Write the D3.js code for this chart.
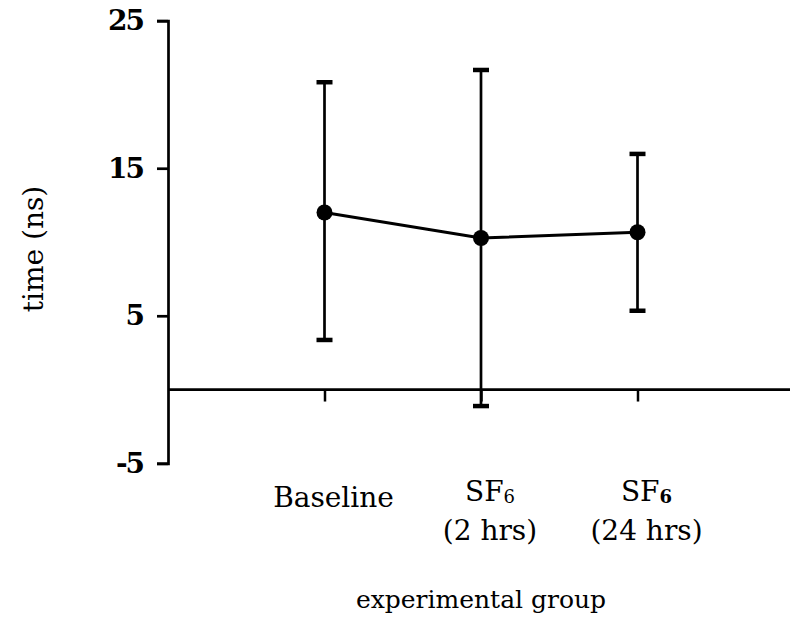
<!DOCTYPE html>
<html>
<head>
<meta charset="utf-8">
<script src="https://cdn.jsdelivr.net/npm/d3@7"></script>
<style>
  html, body { margin: 0; padding: 0; background: #fff; }
  svg { display: block; }
  text { font-family: "DejaVu Serif", serif; fill: #000; }
</style>
</head>
<body>
<script>
// ---- data ----
const categories = ["Baseline", "SF6 (2 hrs)", "SF6 (24 hrs)"];
const categoryPos = [1, 2, 3];
const meanValues = [12.0, 10.27, 10.66];
const upperValues = [20.83, 21.66, 15.97];
const lowerValues = [3.36, -1.12, 5.34];
const yTickValues = [25, 15, 5, -5];
const yTitle = "time (ns)";
const xTitle = "experimental group";

const W = 790, H = 623;
const svg = d3.select("body").append("svg").attr("width", W).attr("height", H);

const x = d3.scaleLinear().domain([0, 4]).range([168, 794]);
const y = d3.scaleLinear().domain([-5, 25]).range([463.3, 20.7]);

// y axis
const yAxis = d3.axisLeft(y).tickValues(yTickValues).tickSizeOuter(0).tickSize(11).tickPadding(14)
  .tickFormat(d => String(d));
const gy = svg.append("g").attr("transform", `translate(${x(0)},0)`).call(yAxis);
gy.select(".domain").attr("stroke", "#000").attr("stroke-width", 2.7);
gy.selectAll(".tick line").attr("stroke", "#000").attr("stroke-width", 2.7);
gy.selectAll(".tick text").attr("font-family", "DejaVu Serif").attr("font-weight", "bold")
  .attr("font-size", 28).attr("letter-spacing", -2).attr("fill", "#000");

// x axis at y = 0
const xAxis = d3.axisBottom(x).tickValues(categoryPos).tickSizeOuter(0).tickSize(12).tickFormat("");
const gx = svg.append("g").attr("transform", `translate(0,${y(0)})`).call(xAxis);
gx.select(".domain").attr("stroke", "#000").attr("stroke-width", 2.7)
  .attr("d", `M${x(0)},0H${W}`);
gx.selectAll(".tick line").attr("stroke", "#000").attr("stroke-width", 2.5);

// category labels
const labels = [
  { main: "Baseline", sub: null, subBold: false, second: null },
  { main: "SF", sub: "6", subBold: false, second: "(2 hrs)" },
  { main: "SF", sub: "6", subBold: true, second: "(24 hrs)" }
];
labels.forEach((l, i) => {
  const cx = x(categoryPos[i]) + 9;
  const t = svg.append("text").attr("x", cx).attr("y", l.second ? 501 : 507)
    .attr("text-anchor", "middle").attr("font-size", 28);
  t.append("tspan").text(l.main);
  if (l.sub) {
    t.append("tspan").attr("font-size", 18).attr("dy", 2)
      .attr("font-weight", l.subBold ? "bold" : "normal").text(l.sub);
  }
  if (l.second) {
    svg.append("text").attr("x", cx).attr("y", 540).attr("text-anchor", "middle")
      .attr("font-size", 28).text(l.second);
  }
});

// axis titles
svg.append("text").attr("transform", `translate(43,${249}) rotate(-90)`)
  .attr("text-anchor", "middle").attr("font-size", 28).text(yTitle);
svg.append("text").attr("x", 481).attr("y", 608).attr("text-anchor", "middle")
  .attr("font-size", 25).text(xTitle);

// error bars
const capW = 16;
categoryPos.forEach((c, i) => {
  const cx = x(c);
  svg.append("line").attr("x1", cx).attr("x2", cx)
    .attr("y1", y(upperValues[i])).attr("y2", y(lowerValues[i]))
    .attr("stroke", "#000").attr("stroke-width", 2.7);
  [upperValues[i], lowerValues[i]].forEach(v => {
    svg.append("line").attr("x1", cx - capW / 2).attr("x2", cx + capW / 2)
      .attr("y1", y(v)).attr("y2", y(v)).attr("stroke", "#000").attr("stroke-width", 4.5);
  });
});

// mean line
const line = d3.line().x((d, i) => x(categoryPos[i])).y(d => y(d));
svg.append("path").datum(meanValues).attr("d", line)
  .attr("fill", "none").attr("stroke", "#000").attr("stroke-width", 3);

svg.selectAll("circle.mean").data(meanValues).enter().append("circle")
  .attr("class", "mean")
  .attr("cx", (d, i) => x(categoryPos[i])).attr("cy", d => y(d)).attr("r", 8)
  .attr("fill", "#000");
</script>
</body>
</html>
